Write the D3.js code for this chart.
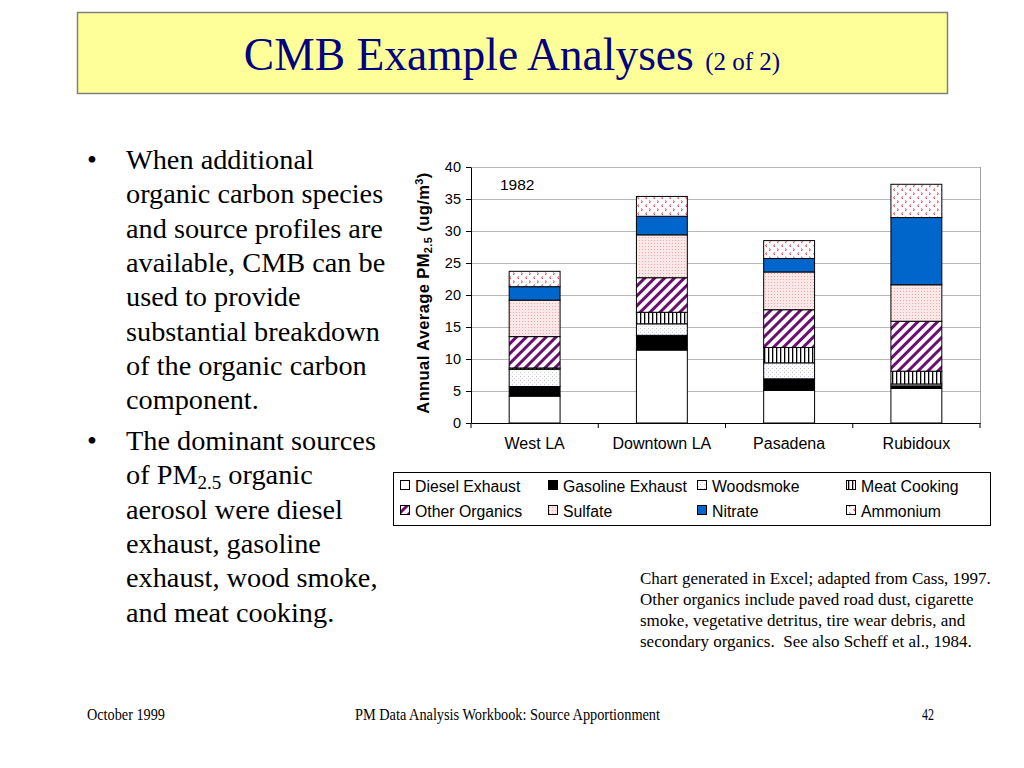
<!DOCTYPE html>
<html><head><meta charset="utf-8">
<script src="https://cdn.jsdelivr.net/npm/d3@7/dist/d3.min.js"></script>
<style>body{margin:0;background:#fff}svg{display:block}</style>
</head><body>
<svg id="c" width="1024" height="768"></svg>
<script>
const categories = ["West LA","Downtown LA","Pasadena","Rubidoux"];
const seriesNames = ["Diesel Exhaust","Gasoline Exhaust","Woodsmoke","Meat Cooking","Other Organics","Sulfate","Nitrate","Ammonium"];
const dieselExhaust   = [4.2, 11.4, 5.1, 5.4];
const gasolineExhaust = [1.5, 2.3, 1.8, 0.4];
const woodsmoke       = [2.7, 1.8, 2.5, 0.3];
const meatCooking     = [0.2, 1.8, 2.4, 2.0];
const otherOrganics   = [4.9, 5.4, 5.9, 7.8];
const sulfate         = [5.7, 6.7, 5.9, 5.7];
const nitrate         = [2.1, 2.9, 2.1, 10.5];
const ammonium        = [2.4, 3.1, 2.8, 5.2];
const yTicks = [0,5,10,15,20,25,30,35,40];
const bullets = [
  ["When additional","organic carbon species","and source profiles are","available, CMB can be","used to provide","substantial breakdown","of the organic carbon","component."],
  ["The dominant sources","of PM2.5 organic","aerosol were diesel","exhaust, gasoline","exhaust, wood smoke,","and meat cooking."]
];
const noteLines = ["Chart generated in Excel; adapted from Cass, 1997.","Other organics include paved road dust, cigarette","smoke, vegetative detritus, tire wear debris, and","secondary organics.  See also Scheff et al., 1984."];

const allSeries = [dieselExhaust,gasolineExhaust,woodsmoke,meatCooking,otherOrganics,sulfate,nitrate,ammonium];
const svg = d3.select("#c");
const defs = svg.append("defs");

function pat(id,w,h,bg){const p=defs.append("pattern").attr("id",id).attr("patternUnits","userSpaceOnUse").attr("width",w).attr("height",h);
  p.append("rect").attr("width",w).attr("height",h).attr("fill",bg);return p;}
let p;
p=pat("wood",4,4,"#ffffff");
p.append("rect").attr("x",0).attr("y",0).attr("width",1).attr("height",1).attr("fill","#c4c4ec");
p.append("rect").attr("x",2).attr("y",2).attr("width",1).attr("height",1).attr("fill","#d4d4f0");
p=pat("meat",4,4,"#ffffff");
p.append("rect").attr("x",0).attr("y",0).attr("width",1.3).attr("height",4).attr("fill","#000");
p=pat("other",7,7,"#ffffff").attr("patternTransform","rotate(45)");
p.append("rect").attr("x",0).attr("y",0).attr("width",3).attr("height",7).attr("fill","#6a1070");
p=pat("sulf",3,3,"#fde8e8");
p.append("rect").attr("x",0).attr("y",0).attr("width",1).attr("height",1).attr("fill","#f0a8a8");
p=pat("ammo",8,8,"#ffffff");
p.append("path").attr("d","M1,0.5 L2.5,1.8 L1,3").attr("stroke","#e83050").attr("stroke-width",1).attr("fill","none");
p.append("path").attr("d","M7,4.5 L5.5,5.8 L7,7").attr("stroke","#e83050").attr("stroke-width",1).attr("fill","none");

const fills = ["#ffffff","#000000","url(#wood)","url(#meat)","url(#other)","url(#sulf)","#0066cc","url(#ammo)"];

// title box
svg.append("rect").attr("x",77.5).attr("y",12.5).attr("width",870).attr("height",81).attr("fill","#ffff99").attr("stroke","#808080").attr("stroke-width",1.5);
const tt = svg.append("text").attr("x",512).attr("y",70).attr("text-anchor","middle").attr("font-family","Liberation Serif").attr("fill","#000080");
tt.append("tspan").attr("font-size",45.5).text("CMB Example Analyses ");
tt.append("tspan").attr("font-size",25).text("(2 of 2)");

// bullets
const bf = {family:"Liberation Serif",size:28.3};
let yLine = 169;
bullets.forEach((lines,bi)=>{
  if(bi===1) yLine = 450;
  svg.append("text").attr("x",87).attr("y",yLine).attr("font-family",bf.family).attr("font-size",bf.size).text("•");
  lines.forEach((ln,i)=>{
    const t = svg.append("text").attr("x",126).attr("y",yLine+i*34.3).attr("font-family",bf.family).attr("font-size",bf.size);
    if(ln.includes("PM2.5")){
      const parts = ln.split("PM2.5");
      t.append("tspan").text(parts[0]+"PM");
      t.append("tspan").attr("font-size",19).attr("dy",5).text("2.5");
      t.append("tspan").attr("dy",-5).text(parts[1]);
    } else t.text(ln);
  });
});

// chart
const x = d3.scaleBand().domain(categories).range([471,980]).paddingInner(0.6).paddingOuter(0.3);
const y = d3.scaleLinear().domain([0,40]).range([423,167]);

svg.append("g").selectAll("line").data(yTicks.filter(d=>d>0)).join("line")
  .attr("x1",471).attr("x2",980).attr("y1",d=>y(d)+0.5).attr("y2",d=>y(d)+0.5).attr("stroke","#b8b8b8").attr("stroke-width",1);
svg.append("line").attr("x1",980.5).attr("x2",980.5).attr("y1",167).attr("y2",423).attr("stroke","#a0a0a0");

const table = categories.map((c,i)=>{const o={cat:c};seriesNames.forEach((s,k)=>o[s]=allSeries[k][i]);return o;});
const stacked = d3.stack().keys(seriesNames)(table);
svg.append("g").selectAll("g").data(stacked).join("g")
  .attr("fill",(d,i)=>fills[i])
  .selectAll("rect").data(d=>d).join("rect")
  .attr("x",d=>x(d.data.cat)).attr("width",x.bandwidth())
  .attr("y",d=>y(d[1])).attr("height",d=>y(d[0])-y(d[1]))
  .attr("stroke","#000").attr("stroke-width",1);

const yAxis = svg.append("g").attr("transform","translate(471,0)")
  .call(d3.axisLeft(y).tickValues(yTicks).tickSize(5).tickSizeOuter(0));
yAxis.select(".domain").attr("stroke","#000");
yAxis.selectAll("text").attr("font-family","Liberation Sans").attr("font-size",14.5).attr("fill","#000").attr("dx",-2);
const xAxis = svg.append("g").attr("transform","translate(0,423)")
  .call(d3.axisBottom(x).tickSize(0).tickSizeOuter(0));
xAxis.select(".domain").attr("stroke","#000");
xAxis.selectAll("text").attr("font-family","Liberation Sans").attr("font-size",16).attr("fill","#000").attr("dy",23);
const bounds = d3.range(categories.length+1).map(i=>471+i*x.step());
svg.append("g").selectAll("line").data(bounds).join("line")
  .attr("x1",d=>d).attr("x2",d=>d).attr("y1",423).attr("y2",428).attr("stroke","#000");

const yl = svg.append("text").attr("transform","translate(429,293) rotate(-90)").attr("text-anchor","middle")
  .attr("font-family","Liberation Sans").attr("font-weight","bold").attr("font-size",16.5).attr("letter-spacing",0.4);
yl.append("tspan").text("Annual Average PM");
yl.append("tspan").attr("font-size",11).attr("dy",3).text("2.5");
yl.append("tspan").attr("dy",-3).text(" (ug/m");
yl.append("tspan").attr("font-size",11).attr("dy",-6).text("3");
yl.append("tspan").attr("dy",6).text(")");

svg.append("text").attr("x",500).attr("y",190).attr("font-family","Liberation Sans").attr("font-size",15.5).text("1982");

// legend
svg.append("rect").attr("x",393.5).attr("y",472.5).attr("width",597).attr("height",53).attr("fill","#fff").attr("stroke","#000");
const colX = [400,548,697,846];
seriesNames.forEach((s,i)=>{
  const cx = colX[i%4], cy = i<4?486:511;
  svg.append("rect").attr("x",cx+0.5).attr("y",cy-5.5).attr("width",9).attr("height",9).attr("fill",fills[i]).attr("stroke","#000");
  svg.append("text").attr("x",cx+15).attr("y",cy+5.5).attr("font-family","Liberation Sans").attr("font-size",15.8).text(s);
});

// note
noteLines.forEach((ln,i)=>{
  svg.append("text").attr("x",640).attr("y",584+i*21).attr("font-family","Liberation Serif").attr("font-size",17).style("white-space","pre").text(ln);
});

// footer
const ff = {family:"Liberation Serif",size:16};
svg.append("text").attr("x",87).attr("y",720).attr("font-family",ff.family).attr("font-size",ff.size).attr("textLength",78).attr("lengthAdjust","spacingAndGlyphs").text("October 1999");
svg.append("text").attr("x",355).attr("y",720).attr("font-family",ff.family).attr("font-size",ff.size).attr("textLength",305).attr("lengthAdjust","spacingAndGlyphs").text("PM Data Analysis Workbook: Source Apportionment");
svg.append("text").attr("x",922).attr("y",720).attr("font-family",ff.family).attr("font-size",ff.size).attr("textLength",12).attr("lengthAdjust","spacingAndGlyphs").text("42");
</script>
</body></html>
